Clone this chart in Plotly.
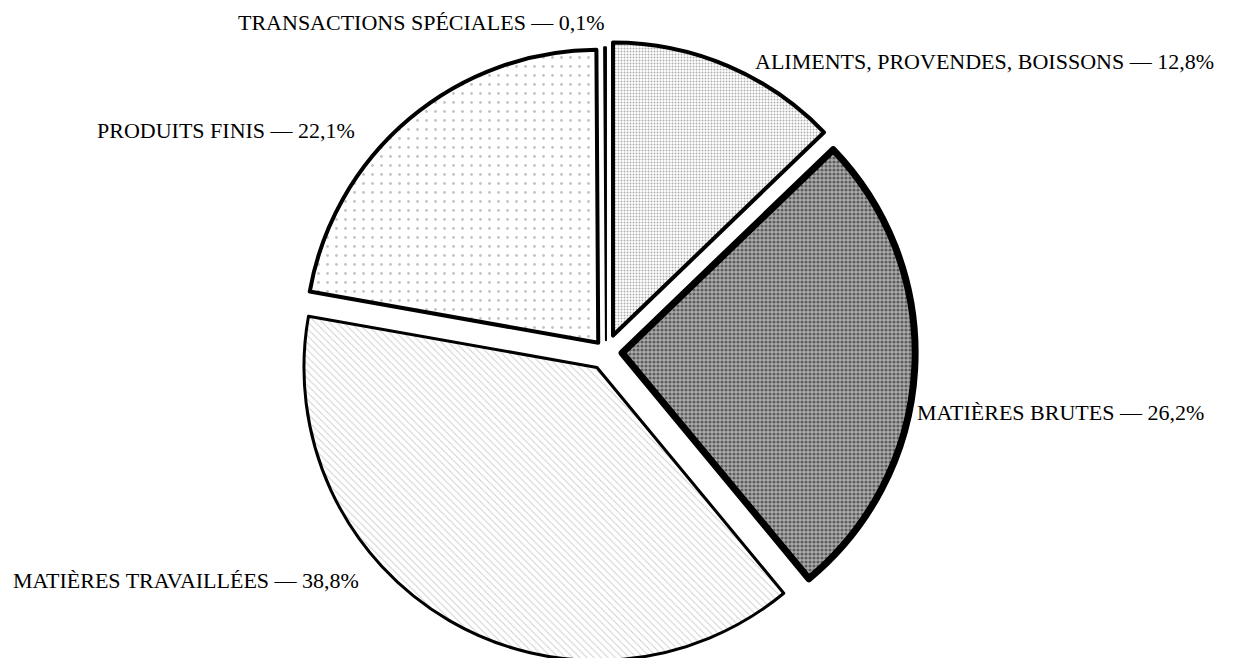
import plotly.graph_objects as go

# Data
categories = [
    "ALIMENTS, PROVENDES, BOISSONS",
    "MATIÈRES BRUTES",
    "MATIÈRES TRAVAILLÉES",
    "PRODUITS FINIS",
    "TRANSACTIONS SPÉCIALES",
]
shares = [12.8, 26.2, 38.8, 22.1, 0.1]

# Styling (not data)
pulls = [0.061, 0.055, 0.061, 0.041, 0.04]
line_widths = [4, 7, 3, 4, 2]
pattern_shapes = [".", ".", "\\", ".", ""]
pattern_fg = ["#5e5e5e", "#111111", "#9a9a9a", "#8a8a8a", "#000000"]
pattern_bg = ["#ffffff", "#ababab", "#ffffff", "#ffffff", "#ffffff"]
pattern_size = [3, 4, 5, 9, 8]
pattern_solidity = [0.35, 0.5, 0.18, 0.08, 0.1]

# label anchor positions in page pixels (left x, vertical centre y)
label_px = [(745, 53.5), (907, 404), (3, 572), (87, 122), (228, 14)]

W, H = 1235, 658

fig = go.Figure(
    go.Pie(
        labels=categories,
        values=shares,
        sort=False,
        direction="clockwise",
        rotation=0,
        pull=pulls,
        textinfo="none",
        hoverinfo="label+percent",
        marker=dict(
            colors=pattern_bg,
            line=dict(color="#000000", width=line_widths),
            pattern=dict(
                shape=pattern_shapes,
                fgcolor=pattern_fg,
                bgcolor=pattern_bg,
                size=pattern_size,
                solidity=pattern_solidity,
                fillmode="overlay",
            ),
        ),
        domain=dict(x=[0.0, 0.9684], y=[0.0047, 0.9497]),
        showlegend=False,
    )
)


def fmt(v):
    return ("%.1f" % v).replace(".", ",") + "%"


annotations = []
for name, val, (px, py) in zip(categories, shares, label_px):
    annotations.append(
        dict(
            text=f"{name} — {fmt(val)}",
            x=px / W,
            y=1 - py / H,
            xref="paper",
            yref="paper",
            xanchor="left",
            yanchor="middle",
            showarrow=False,
            font=dict(family="Liberation Serif", size=22, color="#000000"),
        )
    )

fig.update_layout(
    width=W,
    height=H,
    margin=dict(l=0, r=0, t=0, b=0),
    paper_bgcolor="#ffffff",
    plot_bgcolor="#ffffff",
    annotations=annotations,
)

fig.write_html("out.html")
